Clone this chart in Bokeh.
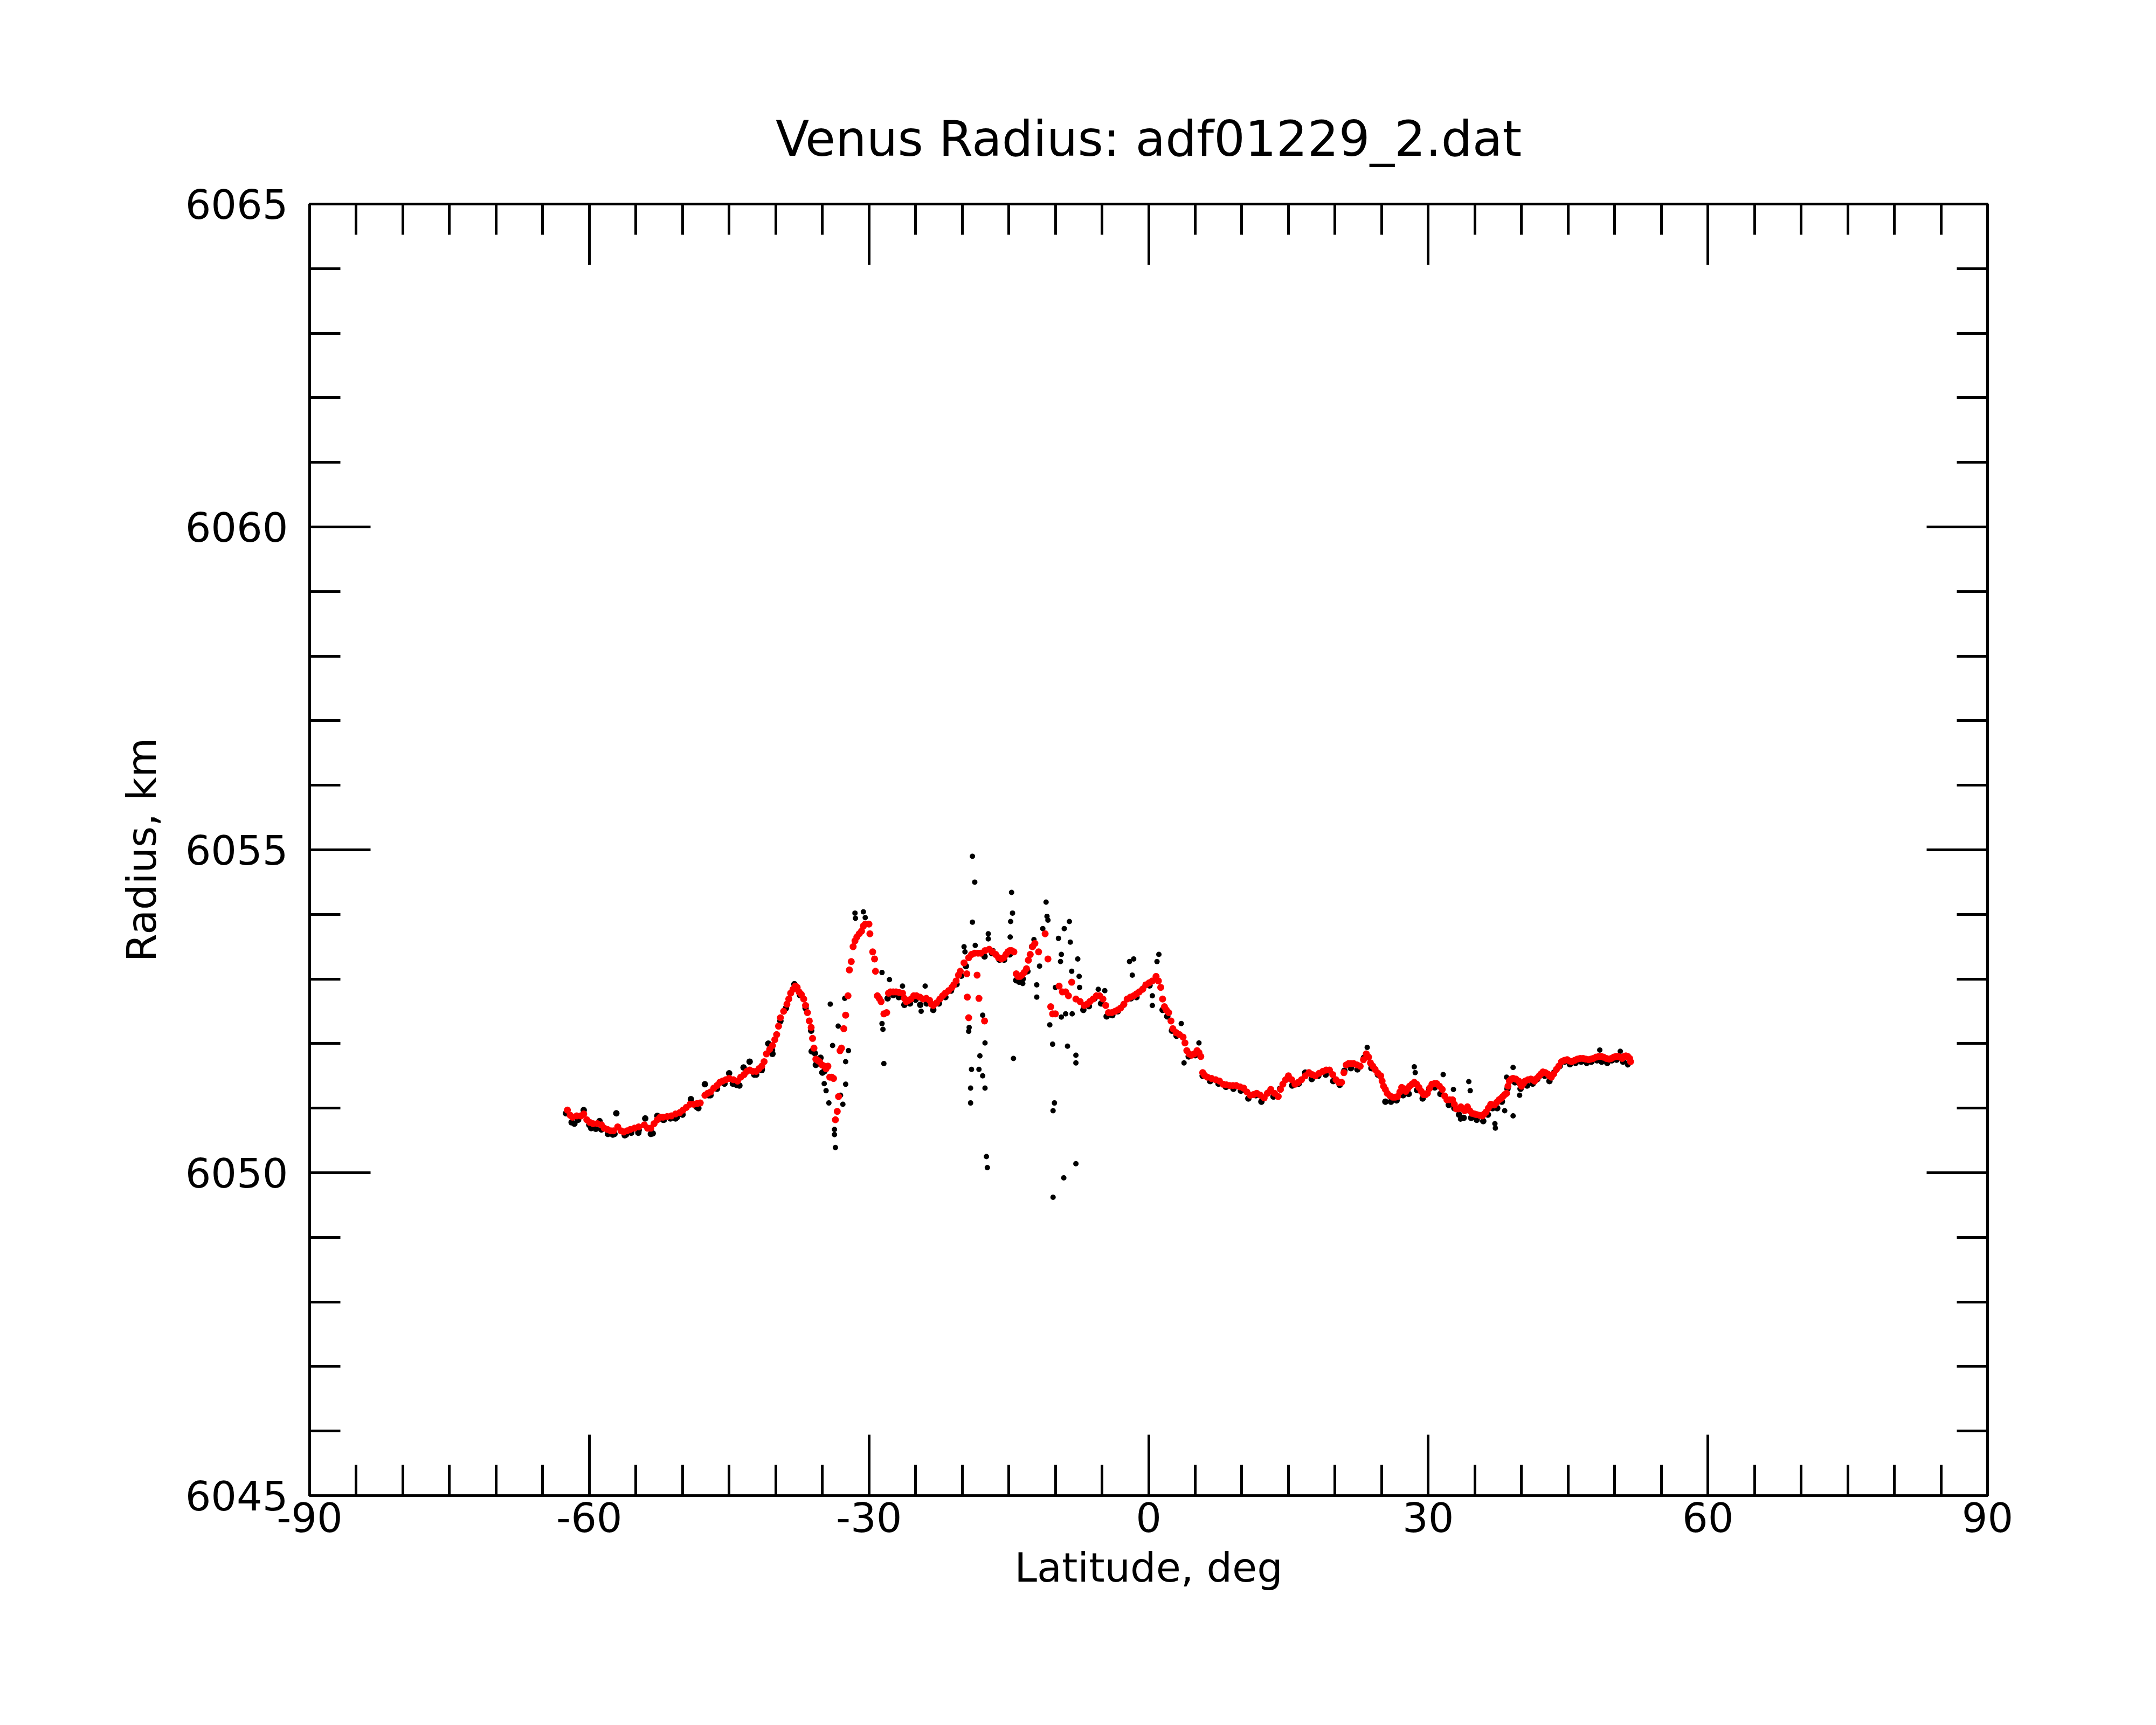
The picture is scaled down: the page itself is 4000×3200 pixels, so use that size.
from bokeh.plotting import figure
from bokeh.models import Range1d, FixedTicker, LinearAxis
from bokeh.embed import file_html
from bokeh.resources import INLINE

# ---------------- data ----------------
# smoothed radius (red), first pass of readings
smooth_lat = [
    -62.35, -61.8, -60.9, -60.27, -59.6, -58.7, -58.05, -57.4, -56.95, -56.3,
    -55.6, -54.7, -54.1, -53.4, -52.7, -52.1, -51.2, -50.3, -49.6, -48.8,
    -48.1, -47.6, -47.0, -46.3, -45.7, -45.0, -44.1, -43.4, -42.8, -42.1,
    -41.5, -41.0, -40.35, -39.9, -39.5, -38.8, -38.4, -37.9, -37.5, -37.0,
    -36.6, -36.2, -36.05, -35.9, -35.7, -35.3, -34.8, -34.4, -34.2, -33.8,
    -33.6, -33.4, -33.26, -33.1, -32.95, -32.7, -32.5, -32.25, -32.1, -31.9,
    -31.7, -31.3, -30.8, -30.4, -30.0, -29.9, -29.6, -29.4, -29.3, -29.1,
    -28.7, -28.4, -28.1, -27.7, -27.1, -26.4, -26.0, -25.5, -24.9, -24.2,
    -23.5, -23.1, -22.4, -21.8, -21.1, -20.65, -20.2, -19.8, -19.5, -19.45,
    -19.3, -19.3, -18.65, -18.4, -18.2, -18.0, -17.6, -17.1, -16.4, -15.8,
    -15.3, -14.9, -14.45, -14.0, -13.6, -13.1, -12.7, -12.2, -11.8, -11.1,
    -10.8, -10.5, -10.3, -10.0, -9.6, -8.9, -8.25, -7.8, -6.9, -6.3,
    -5.6, -4.9, -4.3, -3.6, -3.0, -2.3, -1.6, -1.0, -0.3, 0.4,
    0.8, 1.3, 1.7, 2.15, 2.6, 3.3, 3.7, 4.1, 4.6, 5.2,
    5.6, 5.8, 6.3, 7.2, 8.0, 8.7, 9.4, 10.2, 10.9, 11.6,
    12.4, 13.1, 13.9, 14.4, 15.0, 15.7, 16.4, 17.2, 17.9, 18.7,
    19.4, 20.1, 20.7, 21.2, 21.7, 22.0, 22.7, 23.35, 23.8, 24.3,
    24.9, 25.2, 25.6, 26.2, 26.7, 27.15, 27.6, 28.0, 28.5, 29.0,
    29.5, 29.9, 30.4, 30.9, 31.5, 32.0, 32.6, 33.0, 33.5, 33.9,
    34.2, 34.7, 35.2, 35.8, 36.2, 36.7, 37.1, 37.6, 38.0, 38.4,
    38.7, 39.1, 39.7, 40.0, 40.4, 41.0, 41.4, 41.9, 42.3, 42.8,
    43.2, 43.75, 44.3, 44.9, 45.4, 46.0, 46.6, 47.2, 47.7, 48.3,
    48.8, 49.4, 49.9, 50.4, 50.8, 51.2, 51.6, 51.7,
]
smooth_r = [
    6050.97, 6050.86, 6050.88, 6050.82, 6050.76, 6050.74, 6050.67, 6050.65, 6050.71, 6050.63,
    6050.67, 6050.71, 6050.74, 6050.69, 6050.82, 6050.86, 6050.88, 6050.93, 6051.01, 6051.06,
    6051.08, 6051.20, 6051.25, 6051.35, 6051.42, 6051.46, 6051.42, 6051.52, 6051.59, 6051.57,
    6051.65, 6051.84, 6051.97, 6052.14, 6052.40, 6052.61, 6052.78, 6052.89, 6052.80, 6052.69,
    6052.48, 6052.25, 6052.08, 6051.93, 6051.76, 6051.72, 6051.65, 6051.65, 6051.48, 6051.46,
    6050.82, 6050.95, 6051.18, 6051.89, 6051.93, 6052.23, 6052.44, 6052.74, 6053.14, 6053.27,
    6053.50, 6053.65, 6053.74, 6053.85, 6053.85, 6053.70, 6053.42, 6053.31, 6053.12, 6052.74,
    6052.65, 6052.46, 6052.48, 6052.80, 6052.80, 6052.78, 6052.65, 6052.69, 6052.74, 6052.69,
    6052.67, 6052.59, 6052.69, 6052.78, 6052.87, 6052.97, 6053.12, 6053.25, 6053.08, 6052.72,
    6053.33, 6052.40, 6053.40, 6053.06, 6052.70, 6053.40, 6052.35, 6053.46, 6053.38, 6053.31,
    6053.38, 6053.44, 6053.42, 6053.04, 6053.06, 6053.16, 6053.38, 6053.55, 6053.42, 6053.70,
    6053.31, 6052.57, 6052.46, 6052.46, 6052.89, 6052.80, 6052.95, 6052.69, 6052.59, 6052.65,
    6052.74, 6052.69, 6052.48, 6052.50, 6052.55, 6052.69, 6052.74, 6052.80, 6052.91, 6052.97,
    6053.04, 6052.87, 6052.57, 6052.48, 6052.23, 6052.14, 6052.10, 6051.89, 6051.82, 6051.89,
    6051.80, 6051.55, 6051.48, 6051.44, 6051.37, 6051.35, 6051.35, 6051.31, 6051.20, 6051.23,
    6051.16, 6051.29, 6051.18, 6051.37, 6051.50, 6051.37, 6051.44, 6051.55, 6051.50, 6051.57,
    6051.59, 6051.44, 6051.40, 6051.67, 6051.69, 6051.69, 6051.65, 6051.84, 6051.70, 6051.60,
    6051.50, 6051.34, 6051.23, 6051.17, 6051.18, 6051.32, 6051.26, 6051.34, 6051.40, 6051.32,
    6051.21, 6051.23, 6051.37, 6051.38, 6051.29, 6051.13, 6051.13, 6050.99, 6051.02, 6050.96,
    6051.02, 6050.92, 6050.90, 6050.88, 6050.94, 6051.06, 6051.05, 6051.13, 6051.18, 6051.23,
    6051.42, 6051.46, 6051.42, 6051.34, 6051.42, 6051.45, 6051.42, 6051.50, 6051.56, 6051.53,
    6051.48, 6051.60, 6051.72, 6051.75, 6051.72, 6051.76, 6051.77, 6051.75, 6051.77, 6051.80,
    6051.79, 6051.76, 6051.79, 6051.80, 6051.77, 6051.81, 6051.77, 6051.72,
]

# smoothed radius (red), second pass of readings between the first ones
smooth2_lat = [
    -62.05, -61.35, -60.6, -59.95, -59.15, -58.4, -57.7, -56.6, -55.95, -55.15,
    -53.75, -53.05, -52.4, -51.65, -50.75, -49.95, -49.2, -48.45, -47.3, -46.65,
    -46.0, -45.35, -44.55, -43.75, -43.1, -42.45, -41.8, -41.25, -40.65, -40.1,
    -39.7, -39.15, -38.6, -38.15, -37.7, -37.25, -36.8, -36.4, -35.5, -35.05,
    -34.6, -34.0, -31.5, -31.05, -30.6, -28.9, -27.9, -27.4, -26.75, -26.2,
    -25.75, -25.2, -24.55, -23.85, -23.3, -22.75, -22.1, -21.45, -20.9, -20.4,
    -19.0, -18.3, -17.55, -16.75, -16.1, -15.55, -15.1, -14.7, -14.2, -13.8,
    -13.35, -12.9, -12.45, -9.25, -8.6, -7.35, -6.6, -5.95, -5.25, -4.6,
    -3.95, -3.3, -2.65, -1.95, -1.3, -0.65, 0.05, 1.05, 1.5, 1.9,
    2.4, 2.95, 3.9, 4.35, 4.9, 5.4, 6.0, 6.75, 7.6, 8.35,
    9.05, 9.8, 10.55, 11.25, 12.0, 12.75, 13.5, 14.15, 14.7, 15.35,
    16.05, 16.8, 17.55, 18.3, 19.05, 19.75, 20.4, 20.95, 21.45, 22.35,
    23.05, 23.6, 24.05, 24.6, 25.05, 25.4, 25.9, 26.45, 26.95, 27.4,
    27.8, 28.25, 28.75, 29.25, 29.7, 30.15, 30.65, 31.2, 31.75, 32.3,
    32.8, 33.25, 33.7, 34.05, 34.45, 34.95, 35.5, 36.0, 36.45, 36.9,
    37.35, 37.8, 38.2, 38.55, 38.9, 39.4, 39.85, 40.2, 40.7, 41.2,
    41.65, 42.1, 42.55, 43.0, 43.45, 44.0, 44.6, 45.15, 45.7, 46.3,
    46.9, 47.45, 48.0, 48.55, 49.1, 49.65, 50.15, 50.6, 51.0, 51.4,
]
smooth2_r = [
    6050.89, 6050.88, 6050.91, 6050.78, 6050.76, 6050.69, 6050.65, 6050.65, 6050.65, 6050.69,
    6050.69, 6050.76, 6050.86, 6050.87, 6050.91, 6050.97, 6051.06, 6051.07, 6051.23, 6051.31,
    6051.40, 6051.44, 6051.44, 6051.48, 6051.57, 6051.57, 6051.61, 6051.72, 6051.91, 6052.06,
    6052.27, 6052.50, 6052.69, 6052.84, 6052.87, 6052.76, 6052.59, 6052.35, 6051.74, 6051.67,
    6051.61, 6051.48, 6053.59, 6053.70, 6053.82, 6052.70, 6052.78, 6052.80, 6052.79, 6052.70,
    6052.67, 6052.74, 6052.72, 6052.70, 6052.61, 6052.63, 6052.74, 6052.82, 6052.91, 6053.06,
    6053.38, 6053.40, 6053.44, 6053.42, 6053.33, 6053.33, 6053.42, 6053.44, 6053.08, 6053.04,
    6053.10, 6053.29, 6053.50, 6052.80, 6052.74, 6052.65, 6052.61, 6052.69, 6052.74, 6052.59,
    6052.48, 6052.52, 6052.61, 6052.72, 6052.77, 6052.84, 6052.94, 6052.97, 6052.69, 6052.52,
    6052.35, 6052.17, 6052.01, 6051.84, 6051.84, 6051.86, 6051.51, 6051.46, 6051.42, 6051.36,
    6051.35, 6051.33, 6051.25, 6051.21, 6051.20, 6051.23, 6051.23, 6051.29, 6051.44, 6051.44,
    6051.40, 6051.50, 6051.52, 6051.54, 6051.59, 6051.52, 6051.40, 6051.55, 6051.69, 6051.67,
    6051.75, 6051.79, 6051.65, 6051.54, 6051.42, 6051.29, 6051.19, 6051.17, 6051.25, 6051.30,
    6051.30, 6051.37, 6051.37, 6051.26, 6051.21, 6051.31, 6051.38, 6051.34, 6051.19, 6051.13,
    6051.06, 6050.99, 6050.99, 6050.99, 6050.96, 6050.91, 6050.89, 6050.91, 6051.00, 6051.05,
    6051.09, 6051.15, 6051.21, 6051.34, 6051.45, 6051.45, 6051.38, 6051.38, 6051.44, 6051.44,
    6051.46, 6051.53, 6051.55, 6051.50, 6051.53, 6051.65, 6051.74, 6051.73, 6051.74, 6051.77,
    6051.76, 6051.76, 6051.79, 6051.80, 6051.77, 6051.77, 6051.80, 6051.79, 6051.80, 6051.80,
]

# raw radius (black): points along the track
raw_lat = [
    -62.5, -61.9, -61.2, -60.6, -60.0, -59.3, -58.9, -58.0, -57.3, -57.1,
    -56.2, -55.5, -54.7, -54.0, -53.4, -52.7, -52.0, -51.3, -50.6, -50.0,
    -49.1, -48.5, -47.6, -47.0, -46.3, -45.5, -45.0, -44.2, -43.45, -42.8,
    -42.1, -41.5, -40.8, -40.4, -39.5, -38.9, -38.0, -37.4, -36.8, -36.2,
    -35.8, -35.2, -35.0, -34.6, -28.0, -27.4, -26.8, -26.2, -25.6, -25.0,
    -24.5, -23.8, -23.1, -22.5, -21.8, -21.2, -20.6, -20.1, -19.6, -17.6,
    -16.8, -16.0, -15.5, -14.9, -14.2, -13.5, -13.0, -12.5, -7.0, -6.4,
    -5.8, -5.1, -4.5, -3.9, -3.3, -2.7, -1.9, -1.3, -0.6, 0.1,
    1.5, 2.0, 2.5, 3.0, 4.3, 5.0, 5.8, 6.6, 7.5, 8.3,
    9.1, 9.9, 10.7, 11.5, 12.1, 12.8, 13.4, 14.1, 14.8, 15.4,
    16.1, 16.8, 17.5, 18.2, 19.0, 19.8, 20.5, 21.0, 21.7, 22.4,
    23.1, 23.9, 24.6, 25.4, 26.0, 26.6, 27.3, 27.9, 28.8, 29.4,
    30.1, 30.7, 31.3, 32.2, 32.8, 33.3, 33.8, 34.6, 35.2, 35.9,
    36.4, 36.9, 37.4, 37.9, 38.5, 39.3, 39.9, 40.6, 41.2, 41.7,
    42.5, 43.0, 43.5, 44.1, 44.6, 45.2, 45.8, 46.4, 47.0, 47.5,
    48.1, 48.6, 49.2, 49.7, 50.2, 50.9, 51.5,
    -61.6, -59.8, -58.7, -57.48, -56.06, -54.74, -53.2, -52.08, -50.75, -48.3,
    -47.2, -44.6, -43.9, -42.3, -41.5, -40.35, -36.14, -35.7, -34.8,
]
raw_r = [
    6050.92, 6050.78, 6050.82, 6050.97, 6050.74, 6050.68, 6050.80, 6050.60, 6050.60, 6050.92,
    6050.58, 6050.62, 6050.66, 6050.84, 6050.60, 6050.88, 6050.82, 6050.84, 6050.86, 6050.90,
    6051.14, 6051.02, 6051.37, 6051.20, 6051.30, 6051.38, 6051.54, 6051.36, 6051.63, 6051.72,
    6051.52, 6051.60, 6052.00, 6051.90, 6052.35, 6052.55, 6052.92, 6052.75, 6052.55, 6052.20,
    6051.85, 6051.78, 6051.55, 6051.62, 6052.70, 6052.75, 6052.72, 6052.60, 6052.62, 6052.68,
    6052.60, 6052.62, 6052.52, 6052.62, 6052.72, 6052.82, 6052.92, 6053.05, 6053.20, 6053.35,
    6053.40, 6053.30, 6053.30, 6053.38, 6052.98, 6053.00, 6053.12, 6053.50, 6052.52, 6052.58,
    6052.70, 6052.62, 6052.42, 6052.44, 6052.50, 6052.60, 6052.70, 6052.72, 6052.85, 6052.90,
    6052.52, 6052.42, 6052.20, 6052.12, 6051.80, 6051.82, 6051.50, 6051.42, 6051.38, 6051.33,
    6051.30, 6051.27, 6051.15, 6051.20, 6051.10, 6051.24, 6051.18, 6051.30, 6051.45, 6051.35,
    6051.38, 6051.55, 6051.45, 6051.50, 6051.52, 6051.42, 6051.36, 6051.58, 6051.62, 6051.60,
    6051.78, 6051.62, 6051.52, 6051.10, 6051.10, 6051.12, 6051.20, 6051.22, 6051.28, 6051.15,
    6051.30, 6051.32, 6051.22, 6051.05, 6051.00, 6050.90, 6050.85, 6050.85, 6050.82, 6050.80,
    6050.90, 6051.00, 6051.00, 6051.10, 6051.30, 6051.40, 6051.30, 6051.35, 6051.38, 6051.45,
    6051.50, 6051.42, 6051.55, 6051.65, 6051.72, 6051.68, 6051.70, 6051.72, 6051.70, 6051.72,
    6051.74, 6051.72, 6051.70, 6051.74, 6051.75, 6051.72, 6051.70,
    6050.76, 6050.69, 6050.67, 6050.59, 6050.59, 6050.62, 6050.61, 6050.82, 6050.84, 6051.00,
    6051.20, 6051.38, 6051.35, 6051.52, 6051.59, 6051.84, 6051.88, 6051.67, 6051.57,
]

# raw radius (black): scattered points away from the track
spike_lat = [
    -34.8, -34.6, -34.3, -34.15, -33.9, -33.7, -33.7, -33.6, -33.3, -33.05,
    -32.8, -32.6, -32.5, -32.5, -32.2, -31.5, -31.45, -30.6, -30.4, -28.6,
    -28.6, -28.5, -28.4, -27.8, -26.4, -24.4, -23.97, -19.8, -19.7, -19.3,
    -19.25, -19.1, -19.1, -19.0, -18.9, -18.65, -18.9, -18.6, -18.2, -18.1,
    -17.8, -17.8, -17.55, -17.55, -17.4, -17.3, -17.2, -17.2, -16.7, -14.7,
    -14.6, -14.8, -14.85, -14.5, -13.9, -13.5, -12.3, -12.0, -12.0, -11.7,
    -11.35, -11.0, -10.9, -10.8, -10.6, -10.3, -10.1, -10.25, -10.25, -10.0,
    -9.67, -9.36, -9.45, -9.36, -9.05, -9.1, -8.7, -8.4, -8.5, -8.25,
    -7.8, -7.8, -7.8, -7.6, -7.45, -7.4, -8.2, -8.9, -5.4, -4.7,
    -2.05, -1.75, -1.6, 0.4, 0.4, 0.9, 1.1, 3.5, 3.8, 5.4,
    23.45, 28.5, 28.6, 31.6, 32.7, 33.46, 34.35, 34.5, 37.2, 37.15,
    38.2, 38.4, 39.1, 39.1, 39.8, 48.4, 50.6, 51.4,
]
spike_r = [
    6051.38, 6051.27, 6051.08, 6052.61, 6051.97, 6050.67, 6050.59, 6050.39, 6052.27, 6051.20,
    6051.06, 6052.70, 6051.37, 6051.72, 6051.89, 6054.02, 6053.94, 6054.04, 6053.95, 6053.10,
    6052.31, 6052.22, 6051.69, 6052.99, 6052.89, 6052.50, 6052.89, 6053.50, 6053.42, 6052.19,
    6052.25, 6051.08, 6051.31, 6051.60, 6054.90, 6054.50, 6053.88, 6053.52, 6051.60, 6051.81,
    6051.50, 6052.44, 6052.01, 6051.31, 6050.25, 6050.08, 6053.70, 6053.62, 6053.44, 6054.34,
    6054.02, 6053.89, 6053.65, 6051.77, 6052.95, 6052.93, 6053.61, 6052.91, 6052.72, 6053.20,
    6053.78, 6054.19, 6053.97, 6053.91, 6052.29, 6051.99, 6051.08, 6050.96, 6049.62, 6052.87,
    6053.63, 6053.38, 6053.27, 6052.41, 6053.78, 6049.92, 6051.96, 6053.57, 6053.89, 6053.12,
    6051.82, 6051.70, 6050.14, 6053.31, 6053.04, 6052.87, 6052.46, 6052.46, 6052.84, 6052.82,
    6053.27, 6053.06, 6053.31, 6052.59, 6052.74, 6053.27, 6053.38, 6052.31, 6051.70, 6052.01,
    6051.94, 6051.64, 6051.55, 6051.52, 6051.29, 6050.83, 6051.41, 6051.27, 6050.69, 6050.76,
    6050.96, 6051.48, 6051.63, 6050.88, 6051.20, 6051.90, 6051.88, 6051.67,
]

x_major = [-90, -60, -30, 0, 30, 60, 90]
x_major_text = ["-90", "-60", "-30", "0", "30", "60", "90"]
x_minor = list(range(-90, 91, 5))
y_major = [6045, 6050, 6055, 6060, 6065]
y_minor = list(range(6045, 6066, 1))

title_text = "Venus Radius: adf01229_2.dat"
x_label = "Latitude, deg"
y_label = "Radius, km"

# ---------------- layout ----------------
W, H = 3984, 3184
FL, FR, FT, FB = 574, 3687, 378, 2774
FONT = "DejaVu Sans"
LAB = "75px"

p = figure(width=W, height=H, output_backend="svg", toolbar_location=None,
           x_range=Range1d(-90, 90), y_range=Range1d(6045, 6065),
           x_axis_location=None, y_axis_location=None,
           min_border_left=FL, min_border_right=W - FR,
           min_border_top=FT, min_border_bottom=H - FB,
           background_fill_color="white", border_fill_color="white")
p.grid.visible = False
p.outline_line_color = "black"
p.outline_line_width = 5

p.title.text = title_text
p.title.text_font = FONT
p.title.text_font_size = "91px"
p.title.text_font_style = "normal"
p.title.text_color = "black"
p.title.align = "center"
p.title.standoff = 138


def make_axis(major, minor, show_labels):
    ax = LinearAxis(ticker=FixedTicker(ticks=major, minor_ticks=minor))
    ax.axis_line_color = "black"
    ax.axis_line_width = 5
    ax.major_tick_line_width = 5
    ax.minor_tick_line_width = 5
    ax.major_tick_line_color = "black"
    ax.minor_tick_line_color = "black"
    ax.major_tick_in = 113
    ax.major_tick_out = 0
    ax.minor_tick_in = 57
    ax.minor_tick_out = 0
    ax.major_label_text_font = FONT
    ax.major_label_text_color = "black"
    if show_labels:
        ax.major_label_text_font_size = LAB
    else:
        ax.major_label_text_font_size = "0px"
        ax.major_label_overrides = {v: "" for v in major}
        ax.major_label_standoff = 0
    ax.axis_label_text_font = FONT
    ax.axis_label_text_font_size = LAB
    ax.axis_label_text_font_style = "normal"
    ax.axis_label_text_color = "black"
    return ax


bottom = make_axis(x_major, x_minor, True)
bottom.major_label_overrides = dict(zip(x_major, x_major_text))
bottom.axis_label = x_label
bottom.major_label_standoff = 12
bottom.axis_label_standoff = 19
p.add_layout(bottom, "below")

left = make_axis(y_major, y_minor, True)
left.axis_label = y_label
left.major_label_standoff = 40
left.axis_label_standoff = 34
p.add_layout(left, "left")

top = make_axis(x_major, x_minor, False)
p.add_layout(top, "above")
right = make_axis(y_major, y_minor, False)
p.add_layout(right, "right")

p.scatter(raw_lat, raw_r, size=12, marker="circle", fill_color="black", line_color=None)
p.scatter(spike_lat, spike_r, size=10, marker="circle", fill_color="black", line_color=None)
p.scatter(smooth_lat, smooth_r, size=13, marker="circle", fill_color="red", line_color=None)
p.scatter(smooth2_lat, smooth2_r, size=13, marker="circle", fill_color="red", line_color=None)

open("out.html", "w").write(file_html(p, INLINE))
